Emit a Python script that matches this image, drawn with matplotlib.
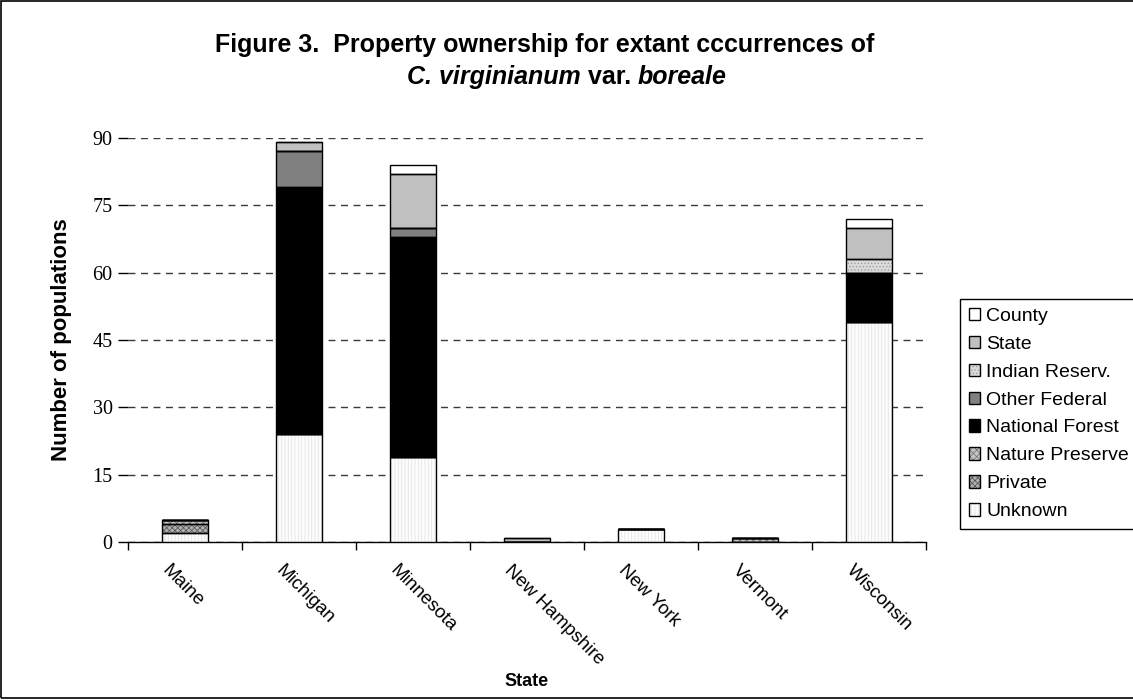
import matplotlib
matplotlib.use("Agg")
import matplotlib.pyplot as plt
from matplotlib.patches import Patch, Rectangle
from matplotlib.transforms import ScaledTranslation
from matplotlib.legend_handler import HandlerTuple
import numpy as np

states = ['Maine', 'Michigan', 'Minnesota', 'New Hampshire', 'New York', 'Vermont', 'Wisconsin']
unknown = [2, 24, 19, 0, 3, 0, 49]
private = [2, 0, 0, 0, 0, 0, 0]
nature_preserve = [1, 0, 0, 0, 0, 1, 0]
national_forest = [0, 55, 49, 0, 0, 0, 11]
other_federal = [0, 8, 2, 0, 0, 0, 0]
indian_reserv = [0, 0, 0, 0, 0, 0, 3]
state_owned = [0, 2, 12, 1, 0, 0, 7]
county = [0, 0, 2, 0, 0, 0, 2]
yticks = [0, 15, 30, 45, 60, 75, 90]

# bottom-to-top stacking order
series = [
    ('Unknown', unknown, '#fcfcfc', '|||||', '#e2e2e2'),
    ('Private', private, '#b0b0b0', 'xxxxxx', '#505050'),
    ('Nature Preserve', nature_preserve, '#c4c4c4', 'xxxxx', '#6e6e6e'),
    ('National Forest', national_forest, '#000000', None, None),
    ('Other Federal', other_federal, '#808080', None, None),
    ('Indian Reserv.', indian_reserv, '#dadada', '.....', '#9a9a9a'),
    ('State', state_owned, '#c0c0c0', None, None),
    ('County', county, '#ffffff', None, None),
]

plt.rcParams['font.family'] = ['Liberation Sans', 'DejaVu Sans']
plt.rcParams['hatch.linewidth'] = 0.5

W, H = 1133, 700
fig = plt.figure(figsize=(W / 100, H / 100), dpi=100)
ax = fig.add_axes([128 / W, 1 - 542 / H, (926 - 128) / W, (542 - 138) / H])

x = np.arange(len(states))
bw = 0.40
bottom = np.zeros(len(states))
handles = {}
for name, vals, fc, hatch, hc in series:
    vals = np.array(vals, dtype=float)
    if hatch:
        ax.bar(x, vals, bw, bottom=bottom, color=fc, hatch=hatch, edgecolor=hc,
               linewidth=0, zorder=3)
    else:
        ax.bar(x, vals, bw, bottom=bottom, color=fc, linewidth=0, zorder=3)
    ax.bar(x, vals, bw, bottom=bottom, fill=False, edgecolor='#000000',
           linewidth=1.0, zorder=4)
    bottom += vals
    if hatch:
        p1 = Patch(facecolor=fc, hatch=hatch, edgecolor=hc, linewidth=0)
    else:
        p1 = Patch(facecolor=fc, linewidth=0)
    p2 = Patch(fill=False, edgecolor='#000000', linewidth=1.0)
    handles[name] = (p1, p2)

ax.set_xlim(-0.5, len(states) - 0.5)
ax.set_ylim(0, 90)
ax.set_yticks(yticks)
ax.set_yticklabels([str(v) for v in yticks], fontfamily='Liberation Serif', fontsize=14.5)
ax.tick_params(axis='y', length=7, width=1, direction='out', pad=4, color='#000000')
ax.yaxis.grid(True, linestyle=(0, (5, 4)), color='#3a3a3a', linewidth=1.0, zorder=1)
ax.set_axisbelow(True)

ax.set_xticks(x)
ax.set_xticklabels(states, rotation=-45, rotation_mode='anchor', ha='left', va='top',
                   fontsize=13.5)
ax.set_xticks(np.arange(len(states) + 1) - 0.5, minor=True)
ax.tick_params(axis='x', which='major', length=0, pad=0)
ax.tick_params(axis='x', which='minor', length=6, width=1, direction='out')
off = ScaledTranslation(-14 / 100, -20 / 100, fig.dpi_scale_trans)
for lab in ax.get_xticklabels():
    lab.set_transform(lab.get_transform() + off)

for s in ['top', 'right', 'left']:
    ax.spines[s].set_visible(False)
ax.spines['bottom'].set_linewidth(1.0)

fig.text(62 / W, 1 - 340 / H, 'Number of populations', rotation=90, fontsize=16,
         fontweight='bold', ha='center', va='center')
fig.text(527 / W, 1 - 682 / H, 'State', fontsize=13, fontweight='bold',
         ha='center', va='center')

# title
fig.text(545 / W, 1 - 45 / H, 'Figure 3.  Property ownership for extant cccurrences of',
         fontsize=18, fontweight='bold', ha='center', va='center')
fig.canvas.draw()
r = fig.canvas.get_renderer()
parts = [('C. virginianum', 'italic'), (' var. ', 'normal'), ('boreale', 'italic')]
tmp = []
for t, st in parts:
    tx = fig.text(0, 1 - 77 / H, t, fontsize=18, fontweight='bold', fontstyle=st,
                  ha='left', va='center')
    tmp.append(tx)
widths = [tx.get_window_extent(r).width for tx in tmp]
total = sum(widths)
cur = 567 - total / 2
for tx, w in zip(tmp, widths):
    tx.set_x(cur / W)
    cur += w

order = ['County', 'State', 'Indian Reserv.', 'Other Federal', 'National Forest',
         'Nature Preserve', 'Private', 'Unknown']
leg = fig.legend([handles[n] for n in order], order,
                 handler_map={tuple: HandlerTuple(ndivide=1, pad=0)},
                 loc='upper left', bbox_to_anchor=(960 / W, 1 - 299 / H),
                 bbox_transform=fig.transFigure, fontsize=14, frameon=True,
                 fancybox=False, edgecolor='#000000', framealpha=1,
                 handlelength=0.6, handleheight=0.6, handletextpad=0.3,
                 labelspacing=0.56, borderpad=0.45, borderaxespad=0)
leg.get_frame().set_linewidth(1.0)

fig.patches.append(Rectangle((1 / W, 2 / H), 1.2, 1 - 3 / H, transform=fig.transFigure,
                             fill=False, edgecolor='#000000', linewidth=1.2))

fig.savefig('out.png', dpi=100)
